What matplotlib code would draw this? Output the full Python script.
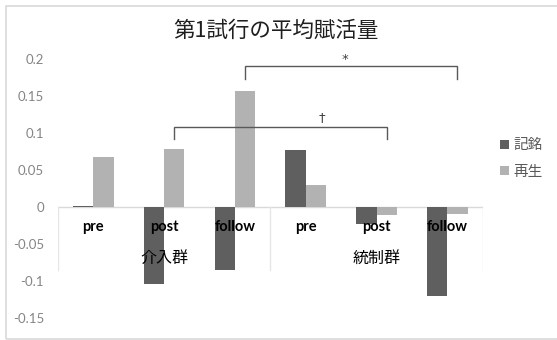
import matplotlib
matplotlib.use("Agg")
import matplotlib.pyplot as plt
from matplotlib.patches import Rectangle
import numpy as np

# Data
phases = ["pre", "post", "follow", "pre", "post", "follow"]
groups = ["介入群", "統制群"]
series_names = ["記銘", "再生"]
encoding = [0.001, -0.104, -0.085, 0.076, -0.024, -0.120]
recall = [0.067, 0.078, 0.156, 0.029, -0.011, -0.010]
yticks = [0.2, 0.15, 0.1, 0.05, 0, -0.05, -0.1, -0.15]
ytick_labels = ["0.2", "0.15", "0.1", "0.05", "0", "-0.05", "-0.1", "-0.15"]
title = "第1試行の平均賦活量"

dark = "#5f5f5f"
light = "#b2b2b2"
latin = ["Lato", "Noto Sans CJK JP"]
cjk = ["Noto Sans CJK JP", "DejaVu Sans"]

W, H = 557, 340
fig = plt.figure(figsize=(W / 100, H / 100), dpi=100)

# plot area in pixel units
left_px, right_px = 58, 482.7
top_px, bottom_px = 58.7, 317.7
ax = fig.add_axes([left_px / W, 1 - bottom_px / H,
                   (right_px - left_px) / W, (bottom_px - top_px) / H])

x = np.arange(len(phases))
bw = 0.286
ax.bar(x - bw / 2, encoding, bw, color=dark, zorder=2, label=series_names[0])
ax.bar(x + bw / 2, recall, bw, color=light, zorder=2, label=series_names[1])

ax.set_xlim(-0.5, len(phases) - 0.5)
ax.set_ylim(-0.15, 0.2)
ax.set_yticks(yticks)
ax.set_yticklabels(ytick_labels, family=latin, fontsize=9.5, color="#858585")
ax.tick_params(axis="y", length=0, pad=10)
ax.set_xticks([])
for s in ax.spines.values():
    s.set_visible(False)

# horizontal axis line at zero and category group separators
ax.plot([-0.5, len(phases) - 0.5], [0, 0], color="#d9d9d9", lw=1, zorder=1)
sep_depth = -0.0855
for xs in [-0.5, 2.5, 5.5]:
    ax.plot([xs, xs], [0, sep_depth], color="#e6e6e6", lw=1, zorder=1)

# category labels
for i, p in enumerate(phases):
    ax.annotate(p, (i, 0), xytext=(0, -20.5), textcoords="offset pixels",
                ha="center", va="center", fontsize=10.5, fontweight="bold",
                family=latin, color="black", zorder=5)
for g, name in enumerate(groups):
    ax.annotate(name, (g * 3 + 1, 0), xytext=(0, -51.5), textcoords="offset pixels",
                ha="center", va="center", fontsize=11.5, family=cjk,
                color="black", zorder=5)

# significance brackets between recall bars
def bracket(i0, i1, y, leg, mark, mark_x, mark_y):
    x0, x1 = i0 + bw / 2, i1 + bw / 2
    ax.plot([x0, x0, x1, x1], [y - leg, y, y, y - leg], color="#595959",
            lw=1, zorder=4, solid_joinstyle="miter")
    ax.text(mark_x, mark_y, mark, ha="center", va="center",
            fontsize=9.5, color="#404040", family=["DejaVu Sans"], zorder=4)

bracket(2, 5, 0.190, 0.018, "*", 3.56, 0.199)
bracket(1, 4, 0.108, 0.017, "†", 3.23, 0.120)

# legend
leg = ax.legend(loc="center left", bbox_to_anchor=(500 / W, 1 - 158.5 / H),
                bbox_transform=fig.transFigure, frameon=False,
                handlelength=0.6, handleheight=0.6, handletextpad=0.3,
                labelspacing=0.85, prop={"family": cjk, "size": 10.5},
                borderpad=0, borderaxespad=0)
for t in leg.get_texts():
    t.set_color("#595959")

fig.text(276 / W, 1 - 31 / H, title, ha="center", va="center",
         fontsize=15.5, family=cjk, color="#1f1f1f")

# chart area border
fig.patches.append(Rectangle((5.5 / W, 1 - 339 / H), (W + 5) / W, (339 - 5.5) / H,
                             transform=fig.transFigure, fill=False,
                             edgecolor="#d9d9d9", lw=1.2))

fig.savefig("out.png", dpi=100)
